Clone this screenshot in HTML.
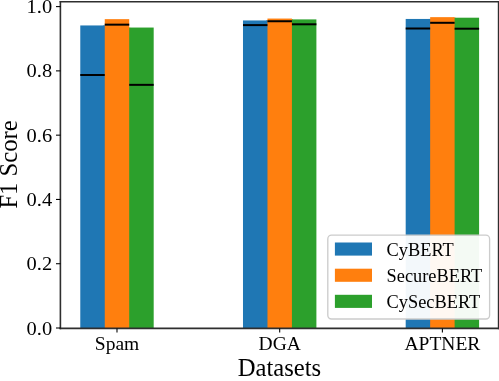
<!DOCTYPE html>
<html><head><meta charset="utf-8"><style>
html,body{margin:0;padding:0;background:#fff;width:499px;height:381px;overflow:hidden}
svg{display:block;will-change:transform}
text{font-family:"Liberation Serif",serif;fill:#000}
.tk{font-size:19.5px}
.lg{font-size:18.67px}
.lab{font-size:24.65px}
</style></head><body>
<svg width="499" height="381" viewBox="0 0 499 381">
<rect x="0" y="0" width="499" height="381" fill="#fff"/>
<rect x="103.25" y="25.45" width="2.5" height="302.55" fill="#1f77b4"/>
<rect x="80.28" y="25.45" width="24.47" height="302.55" fill="#1f77b4"/>
<rect x="127.72" y="27.55" width="2.5" height="300.45" fill="#ff7f0e"/>
<rect x="104.75" y="19.15" width="24.47" height="308.85" fill="#ff7f0e"/>
<rect x="129.22" y="27.55" width="24.47" height="300.45" fill="#2ca02c"/>
<rect x="265.96" y="20.45" width="2.5" height="307.55" fill="#1f77b4"/>
<rect x="242.99" y="20.45" width="24.47" height="307.55" fill="#1f77b4"/>
<rect x="290.43" y="19.40" width="2.5" height="308.60" fill="#ff7f0e"/>
<rect x="267.46" y="18.55" width="24.47" height="309.45" fill="#ff7f0e"/>
<rect x="291.93" y="19.40" width="24.47" height="308.60" fill="#2ca02c"/>
<rect x="428.65" y="18.95" width="2.5" height="309.05" fill="#1f77b4"/>
<rect x="405.69" y="18.95" width="24.47" height="309.05" fill="#1f77b4"/>
<rect x="453.12" y="17.70" width="2.5" height="310.30" fill="#ff7f0e"/>
<rect x="430.15" y="17.15" width="24.47" height="310.85" fill="#ff7f0e"/>
<rect x="454.62" y="17.70" width="24.47" height="310.30" fill="#2ca02c"/>
<line x1="80.28" x2="104.75" y1="75.00" y2="75.00" stroke="#000" stroke-width="2"/>
<line x1="104.75" x2="129.22" y1="24.65" y2="24.65" stroke="#000" stroke-width="2"/>
<line x1="129.22" x2="153.69" y1="84.85" y2="84.85" stroke="#000" stroke-width="2"/>
<line x1="242.99" x2="267.46" y1="25.10" y2="25.10" stroke="#000" stroke-width="2"/>
<line x1="267.46" x2="291.93" y1="21.25" y2="21.25" stroke="#000" stroke-width="2"/>
<line x1="291.93" x2="316.39" y1="24.30" y2="24.30" stroke="#000" stroke-width="2"/>
<line x1="405.69" x2="430.15" y1="28.50" y2="28.50" stroke="#000" stroke-width="2"/>
<line x1="430.15" x2="454.62" y1="22.80" y2="22.80" stroke="#000" stroke-width="2"/>
<line x1="454.62" x2="479.10" y1="28.70" y2="28.70" stroke="#000" stroke-width="2"/>
<g fill="none" stroke="#2e2e2e" stroke-width="1.6" stroke-linecap="butt">
<line x1="60.4" y1="0.95" x2="60.4" y2="329.15"/>
<line x1="498.6" y1="0.95" x2="498.6" y2="329.15"/>
<line x1="59.6" y1="1.75" x2="499.4" y2="1.75"/>
<line x1="59.6" y1="328.35" x2="499.4" y2="328.35"/>
</g>
<line x1="56.0" x2="60.5" y1="328.00" y2="328.00" stroke="#000" stroke-width="1.07"/>
<text transform="translate(52.2,334.60) scale(1.05,1)" text-anchor="end" class="tk">0.0</text>
<line x1="56.0" x2="60.5" y1="263.72" y2="263.72" stroke="#000" stroke-width="1.07"/>
<text transform="translate(52.2,270.32) scale(1.05,1)" text-anchor="end" class="tk">0.2</text>
<line x1="56.0" x2="60.5" y1="199.44" y2="199.44" stroke="#000" stroke-width="1.07"/>
<text transform="translate(52.2,206.04) scale(1.05,1)" text-anchor="end" class="tk">0.4</text>
<line x1="56.0" x2="60.5" y1="135.16" y2="135.16" stroke="#000" stroke-width="1.07"/>
<text transform="translate(52.2,141.76) scale(1.05,1)" text-anchor="end" class="tk">0.6</text>
<line x1="56.0" x2="60.5" y1="70.88" y2="70.88" stroke="#000" stroke-width="1.07"/>
<text transform="translate(52.2,77.48) scale(1.05,1)" text-anchor="end" class="tk">0.8</text>
<line x1="56.0" x2="60.5" y1="6.60" y2="6.60" stroke="#000" stroke-width="1.07"/>
<text transform="translate(52.2,13.20) scale(1.05,1)" text-anchor="end" class="tk">1.0</text>
<line x1="116.99" x2="116.99" y1="328.4" y2="332.6" stroke="#000" stroke-width="1.07"/>
<text transform="translate(116.99,350.0)" text-anchor="middle" class="tk">Spam</text>
<line x1="279.69" x2="279.69" y1="328.4" y2="332.6" stroke="#000" stroke-width="1.07"/>
<text transform="translate(279.69,350.0)" text-anchor="middle" class="tk">DGA</text>
<line x1="442.39" x2="442.39" y1="328.4" y2="332.6" stroke="#000" stroke-width="1.07"/>
<text transform="translate(442.39,350.0)" text-anchor="middle" class="tk">APTNER</text>
<rect x="327.8" y="235.2" width="161.8" height="83.8" rx="3.7" ry="3.7" fill="#fff" fill-opacity="0.95" stroke="#cccccc" stroke-width="1.33"/>
<rect x="334.9" y="242.50" width="37.1" height="13.1" fill="#1f77b4"/>
<text transform="translate(386.6,255.60) scale(0.982,1)" class="lg">CyBERT</text>
<rect x="334.9" y="268.70" width="37.1" height="13.1" fill="#ff7f0e"/>
<text transform="translate(386.6,281.50) scale(0.982,1)" class="lg">SecureBERT</text>
<rect x="334.9" y="294.80" width="37.1" height="13.1" fill="#2ca02c"/>
<text transform="translate(386.6,308.00) scale(0.982,1)" class="lg">CySecBERT</text>
<text transform="translate(279.4,375.6) scale(1,1.04)" text-anchor="middle" class="lab">Datasets</text>
<text transform="translate(16.8,164.45) rotate(-90) scale(1,1.04)" text-anchor="middle" class="lab">F1 Score</text>
</svg>
</body></html>
